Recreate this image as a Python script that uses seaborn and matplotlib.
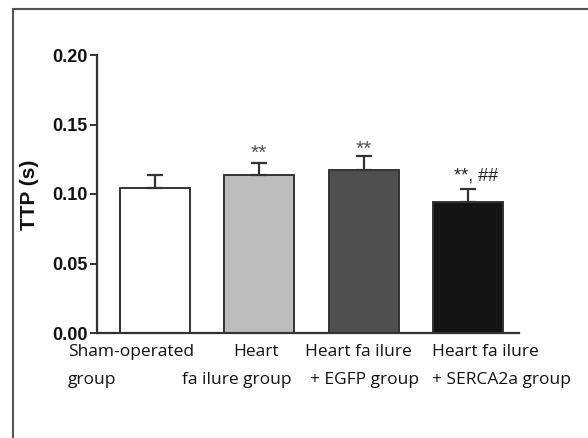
import matplotlib
matplotlib.use("Agg")
import matplotlib.pyplot as plt
import matplotlib.transforms as mtransforms
from matplotlib.patches import Rectangle
import seaborn as sns
import pandas as pd
import numpy as np

# ---- data ----
groups = ["Sham-operated group", "Heart failure group",
          "Heart failure + EGFP group", "Heart failure + SERCA2a group"]
ttp_mean = [0.104, 0.114, 0.117, 0.0945]
ttp_sem = [0.0095, 0.0085, 0.010, 0.0092]
sig_marks = ["", "**", "**", "**, ##"]
label_line1 = ["Sham-operated", "Heart", "Heart fa ilure", "Heart fa ilure"]
label_line2 = ["group", "fa ilure group", "+ EGFP group", "+ SERCA2a group"]
yticks = [0.00, 0.05, 0.10, 0.15, 0.20]

# ---- style ----
bar_colors = ["#ffffff", "#bdbdbd", "#4f4f4f", "#141414"]
sig_colors = ["#555555", "#555555", "#555555", "#222222"]
sig_sizes = [15, 15, 15, 13]
sig_offsets = [(0, 0), (0, 7), (0, 5), (6, 9)]  # points from error top
# label layout: (x offset in category units, ha)
l1_layout = [(-0.833, "left"), (-0.03, "center"), (-0.045, "center"), (-0.34, "left")]
l2_layout = [(-0.833, "left"), (-0.22, "center"), (0.01, "center"), (-0.34, "left")]

sns.set_theme(style="ticks")
plt.rcParams["font.family"] = ["Liberation Sans", "DejaVu Sans"]

fig = plt.figure(figsize=(5.88, 4.38), dpi=100)
ax = fig.add_axes([97/588, 1-333/438, (519-97)/588, (333-55)/438])

df = pd.DataFrame({"group": groups, "ttp": ttp_mean})
sns.barplot(data=df, x="group", y="ttp", hue="group", palette=dict(zip(groups, bar_colors)),
            order=groups, hue_order=groups, legend=False, width=0.67,
            edgecolor="#333333", linewidth=1.4, ax=ax, errorbar=None)

xs = np.arange(len(groups))
ax.errorbar(xs, ttp_mean, yerr=[np.zeros(len(groups)), ttp_sem], fmt="none",
            ecolor="#333333", elinewidth=1.6, capsize=6, capthick=1.6, zorder=3)

for i, (m, s, mark) in enumerate(zip(ttp_mean, ttp_sem, sig_marks)):
    if mark:
        ax.annotate(mark, xy=(i, m + s), xytext=sig_offsets[i], textcoords="offset points",
                    ha="center", va="center", fontsize=sig_sizes[i], color=sig_colors[i])

ax.set_xlim(-0.555, 3.49)
ax.set_ylim(0, 0.20)
ax.set_yticks(yticks)
ax.set_yticklabels([f"{t:.2f}" for t in yticks], fontsize=13, fontweight="bold", color="#111111")
ax.tick_params(axis="y", length=5, width=1.4, color="#333333", pad=1.5)
ax.set_xticks([])
ax.set_xlabel("")
ax.set_ylabel("TTP (s)", fontsize=15, fontweight="bold", color="#111111")
ax.yaxis.set_label_coords(-0.137, 0.496)

for side in ["top", "right"]:
    ax.spines[side].set_visible(False)
for side in ["left", "bottom"]:
    ax.spines[side].set_color("#333333")
    ax.spines[side].set_linewidth(1.6)

trans = mtransforms.blended_transform_factory(ax.transData, ax.transAxes)
for i in range(len(groups)):
    dx1, ha1 = l1_layout[i]
    dx2, ha2 = l2_layout[i]
    ax.text(i + dx1, -0.068, label_line1[i], transform=trans, ha=ha1, va="center",
            fontsize=12.5, family=["Open Sans", "DejaVu Sans"], color="#111111")
    ax.text(i + dx2, -0.169, label_line2[i], transform=trans, ha=ha2, va="center",
            fontsize=12.5, family=["Open Sans", "DejaVu Sans"], color="#111111")

# figure frame
fig.patches.append(Rectangle((13/588, -0.1), 1.2, 1 - 9/438 + 0.1, transform=fig.transFigure,
                             fill=False, edgecolor="#555555", linewidth=1.5))

fig.savefig("out.png", dpi=100)
